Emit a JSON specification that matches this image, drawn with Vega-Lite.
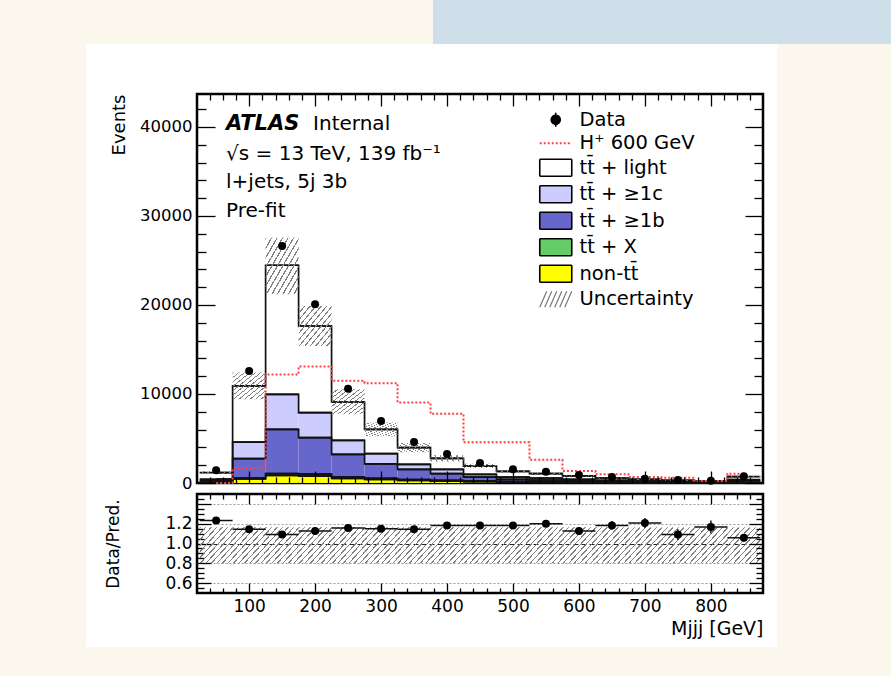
{
  "$schema": "https://vega.github.io/schema/vega-lite/v6.json",
  "background": "#ffffff",
  "padding": 0,
  "spacing": 0,
  "config": {
    "font": "DejaVu Sans",
    "view": {"stroke": null},
    "axis": {"labelFont": "DejaVu Sans", "titleFont": "DejaVu Sans", "labelColor": "#000", "titleColor": "#000", "titleFontWeight": "normal", "tickColor": "#000", "domain": false, "labelOverlap": false, "labelFlush": false},
    "legend": {"labelFont": "DejaVu Sans"}
  },
  "datasets": {
    "stack": [
      {"lo":25,"hi":75,"mid":50,"p":"non-tt\u0304","ev":60},{"lo":25,"hi":75,"mid":50,"p":"tt\u0304 + X","ev":20},{"lo":25,"hi":75,"mid":50,"p":"tt\u0304 + \u22651b","ev":150},{"lo":25,"hi":75,"mid":50,"p":"tt\u0304 + \u22651c","ev":200},{"lo":25,"hi":75,"mid":50,"p":"tt\u0304 + light","ev":730},
      {"lo":75,"hi":125,"mid":100,"p":"non-tt\u0304","ev":450},{"lo":75,"hi":125,"mid":100,"p":"tt\u0304 + X","ev":100},{"lo":75,"hi":125,"mid":100,"p":"tt\u0304 + \u22651b","ev":2180},{"lo":75,"hi":125,"mid":100,"p":"tt\u0304 + \u22651c","ev":1870},{"lo":75,"hi":125,"mid":100,"p":"tt\u0304 + light","ev":6300},
      {"lo":125,"hi":175,"mid":150,"p":"non-tt\u0304","ev":850},{"lo":125,"hi":175,"mid":150,"p":"tt\u0304 + X","ev":200},{"lo":125,"hi":175,"mid":150,"p":"tt\u0304 + \u22651b","ev":4980},{"lo":125,"hi":175,"mid":150,"p":"tt\u0304 + \u22651c","ev":3930},{"lo":125,"hi":175,"mid":150,"p":"tt\u0304 + light","ev":14500},
      {"lo":175,"hi":225,"mid":200,"p":"non-tt\u0304","ev":780},{"lo":175,"hi":225,"mid":200,"p":"tt\u0304 + X","ev":220},{"lo":175,"hi":225,"mid":200,"p":"tt\u0304 + \u22651b","ev":4090},{"lo":175,"hi":225,"mid":200,"p":"tt\u0304 + \u22651c","ev":2810},{"lo":175,"hi":225,"mid":200,"p":"tt\u0304 + light","ev":9740},
      {"lo":225,"hi":275,"mid":250,"p":"non-tt\u0304","ev":520},{"lo":225,"hi":275,"mid":250,"p":"tt\u0304 + X","ev":150},{"lo":225,"hi":275,"mid":250,"p":"tt\u0304 + \u22651b","ev":2550},{"lo":225,"hi":275,"mid":250,"p":"tt\u0304 + \u22651c","ev":1570},{"lo":225,"hi":275,"mid":250,"p":"tt\u0304 + light","ev":4310},
      {"lo":275,"hi":325,"mid":300,"p":"non-tt\u0304","ev":400},{"lo":275,"hi":325,"mid":300,"p":"tt\u0304 + X","ev":120},{"lo":275,"hi":325,"mid":300,"p":"tt\u0304 + \u22651b","ev":1630},{"lo":275,"hi":325,"mid":300,"p":"tt\u0304 + \u22651c","ev":1150},{"lo":275,"hi":325,"mid":300,"p":"tt\u0304 + light","ev":2730},
      {"lo":325,"hi":375,"mid":350,"p":"non-tt\u0304","ev":300},{"lo":325,"hi":375,"mid":350,"p":"tt\u0304 + X","ev":90},{"lo":325,"hi":375,"mid":350,"p":"tt\u0304 + \u22651b","ev":1150},{"lo":325,"hi":375,"mid":350,"p":"tt\u0304 + \u22651c","ev":560},{"lo":325,"hi":375,"mid":350,"p":"tt\u0304 + light","ev":1870},
      {"lo":375,"hi":425,"mid":400,"p":"non-tt\u0304","ev":220},{"lo":375,"hi":425,"mid":400,"p":"tt\u0304 + X","ev":70},{"lo":375,"hi":425,"mid":400,"p":"tt\u0304 + \u22651b","ev":760},{"lo":375,"hi":425,"mid":400,"p":"tt\u0304 + \u22651c","ev":490},{"lo":375,"hi":425,"mid":400,"p":"tt\u0304 + light","ev":1230},
      {"lo":425,"hi":475,"mid":450,"p":"non-tt\u0304","ev":160},{"lo":425,"hi":475,"mid":450,"p":"tt\u0304 + X","ev":50},{"lo":425,"hi":475,"mid":450,"p":"tt\u0304 + \u22651b","ev":460},{"lo":425,"hi":475,"mid":450,"p":"tt\u0304 + \u22651c","ev":310},{"lo":425,"hi":475,"mid":450,"p":"tt\u0304 + light","ev":920},
      {"lo":475,"hi":525,"mid":500,"p":"non-tt\u0304","ev":110},{"lo":475,"hi":525,"mid":500,"p":"tt\u0304 + X","ev":35},{"lo":475,"hi":525,"mid":500,"p":"tt\u0304 + \u22651b","ev":265},{"lo":475,"hi":525,"mid":500,"p":"tt\u0304 + \u22651c","ev":260},{"lo":475,"hi":525,"mid":500,"p":"tt\u0304 + light","ev":630},
      {"lo":525,"hi":575,"mid":550,"p":"non-tt\u0304","ev":80},{"lo":525,"hi":575,"mid":550,"p":"tt\u0304 + X","ev":25},{"lo":525,"hi":575,"mid":550,"p":"tt\u0304 + \u22651b","ev":225},{"lo":525,"hi":575,"mid":550,"p":"tt\u0304 + \u22651c","ev":230},{"lo":525,"hi":575,"mid":550,"p":"tt\u0304 + light","ev":490},
      {"lo":575,"hi":625,"mid":600,"p":"non-tt\u0304","ev":60},{"lo":575,"hi":625,"mid":600,"p":"tt\u0304 + X","ev":20},{"lo":575,"hi":625,"mid":600,"p":"tt\u0304 + \u22651b","ev":170},{"lo":575,"hi":625,"mid":600,"p":"tt\u0304 + \u22651c","ev":170},{"lo":575,"hi":625,"mid":600,"p":"tt\u0304 + light","ev":370},
      {"lo":625,"hi":675,"mid":650,"p":"non-tt\u0304","ev":45},{"lo":625,"hi":675,"mid":650,"p":"tt\u0304 + X","ev":15},{"lo":625,"hi":675,"mid":650,"p":"tt\u0304 + \u22651b","ev":120},{"lo":625,"hi":675,"mid":650,"p":"tt\u0304 + \u22651c","ev":120},{"lo":625,"hi":675,"mid":650,"p":"tt\u0304 + light","ev":260},
      {"lo":675,"hi":725,"mid":700,"p":"non-tt\u0304","ev":35},{"lo":675,"hi":725,"mid":700,"p":"tt\u0304 + X","ev":10},{"lo":675,"hi":725,"mid":700,"p":"tt\u0304 + \u22651b","ev":85},{"lo":675,"hi":725,"mid":700,"p":"tt\u0304 + \u22651c","ev":85},{"lo":675,"hi":725,"mid":700,"p":"tt\u0304 + light","ev":185},
      {"lo":725,"hi":775,"mid":750,"p":"non-tt\u0304","ev":25},{"lo":725,"hi":775,"mid":750,"p":"tt\u0304 + X","ev":8},{"lo":725,"hi":775,"mid":750,"p":"tt\u0304 + \u22651b","ev":62},{"lo":725,"hi":775,"mid":750,"p":"tt\u0304 + \u22651c","ev":65},{"lo":725,"hi":775,"mid":750,"p":"tt\u0304 + light","ev":140},
      {"lo":775,"hi":825,"mid":800,"p":"non-tt\u0304","ev":20},{"lo":775,"hi":825,"mid":800,"p":"tt\u0304 + X","ev":6},{"lo":775,"hi":825,"mid":800,"p":"tt\u0304 + \u22651b","ev":44},{"lo":775,"hi":825,"mid":800,"p":"tt\u0304 + \u22651c","ev":50},{"lo":775,"hi":825,"mid":800,"p":"tt\u0304 + light","ev":100},
      {"lo":825,"hi":875,"mid":850,"p":"non-tt\u0304","ev":50},{"lo":825,"hi":875,"mid":850,"p":"tt\u0304 + X","ev":15},{"lo":825,"hi":875,"mid":850,"p":"tt\u0304 + \u22651b","ev":165},{"lo":825,"hi":875,"mid":850,"p":"tt\u0304 + \u22651c","ev":150},{"lo":825,"hi":875,"mid":850,"p":"tt\u0304 + light","ev":330}
    ],
    "bins": [
      {"lo":25,"hi":75,"mid":50,"data":1430,"ulo":1010,"uhi":1310,"sig":0,"ratio":1.233,"rdn":1.203,"rup":1.263,"blo":0.8,"bhi":1.165},
      {"lo":75,"hi":125,"mid":100,"data":12580,"ulo":9400,"uhi":12400,"sig":1620,"ratio":1.143,"rdn":1.133,"rup":1.153,"blo":0.8,"bhi":1.165},
      {"lo":125,"hi":175,"mid":150,"data":26630,"ulo":21200,"uhi":27560,"sig":12200,"ratio":1.09,"rdn":1.083,"rup":1.097,"blo":0.8,"bhi":1.165},
      {"lo":175,"hi":225,"mid":200,"data":20080,"ulo":15390,"uhi":19890,"sig":13100,"ratio":1.127,"rdn":1.119,"rup":1.135,"blo":0.8,"bhi":1.165},
      {"lo":225,"hi":275,"mid":250,"data":10600,"ulo":7720,"uhi":10530,"sig":11500,"ratio":1.157,"rdn":1.146,"rup":1.168,"blo":0.8,"bhi":1.165},
      {"lo":275,"hi":325,"mid":300,"data":6970,"ulo":5250,"uhi":6810,"sig":11200,"ratio":1.15,"rdn":1.136,"rup":1.164,"blo":0.8,"bhi":1.165},
      {"lo":325,"hi":375,"mid":350,"data":4600,"ulo":3450,"uhi":4490,"sig":9030,"ratio":1.143,"rdn":1.126,"rup":1.16,"blo":0.8,"bhi":1.165},
      {"lo":375,"hi":425,"mid":400,"data":3260,"ulo":2410,"uhi":3130,"sig":7780,"ratio":1.183,"rdn":1.163,"rup":1.203,"blo":0.8,"bhi":1.165},
      {"lo":425,"hi":475,"mid":450,"data":2250,"ulo":1650,"uhi":2150,"sig":4570,"ratio":1.183,"rdn":1.159,"rup":1.207,"blo":0.8,"bhi":1.165},
      {"lo":475,"hi":525,"mid":500,"data":1540,"ulo":1130,"uhi":1470,"sig":4570,"ratio":1.183,"rdn":1.154,"rup":1.212,"blo":0.8,"bhi":1.165},
      {"lo":525,"hi":575,"mid":550,"data":1260,"ulo":910,"uhi":1190,"sig":2620,"ratio":1.2,"rdn":1.167,"rup":1.233,"blo":0.8,"bhi":1.165},
      {"lo":575,"hi":625,"mid":600,"data":890,"ulo":690,"uhi":890,"sig":1350,"ratio":1.127,"rdn":1.089,"rup":1.165,"blo":0.8,"bhi":1.165},
      {"lo":625,"hi":675,"mid":650,"data":660,"ulo":490,"uhi":630,"sig":980,"ratio":1.183,"rdn":1.138,"rup":1.228,"blo":0.8,"bhi":1.165},
      {"lo":675,"hi":725,"mid":700,"data":480,"ulo":350,"uhi":450,"sig":670,"ratio":1.207,"rdn":1.157,"rup":1.257,"blo":0.8,"bhi":1.165},
      {"lo":725,"hi":775,"mid":750,"data":330,"ulo":260,"uhi":340,"sig":600,"ratio":1.09,"rdn":1.035,"rup":1.145,"blo":0.8,"bhi":1.165},
      {"lo":775,"hi":825,"mid":800,"data":257,"ulo":190,"uhi":250,"sig":220,"ratio":1.167,"rdn":1.102,"rup":1.232,"blo":0.8,"bhi":1.165},
      {"lo":825,"hi":875,"mid":850,"data":750,"ulo":620,"uhi":800,"sig":1050,"ratio":1.057,"rdn":1.019,"rup":1.095,"blo":0.8,"bhi":1.165}
    ]
  },
  "vconcat": [
    {
      "spacing": 0,
      "bounds": "flush",
      "hconcat": [
        {"width": 433, "height": 44, "data": {"values": [{}]}, "mark": {"type": "point", "opacity": 0}, "view": {"fill": "#fbf7ec", "stroke": null}},
        {"width": 458, "height": 44, "data": {"values": [{}]}, "mark": {"type": "point", "opacity": 0}, "view": {"fill": "#cfdfe9", "stroke": null}}
      ]
    },
    {
      "columns": 5,
      "spacing": 0,
      "bounds": "flush",
      "align": "each",
      "concat": [
        {"width": 86, "height": 50, "data": {"values": [{}]}, "mark": {"type": "point", "opacity": 0}, "view": {"fill": "#fbf7ec", "stroke": null}},
        {"width": 111, "height": 50, "data": {"values": [{}]}, "mark": {"type": "point", "opacity": 0}, "view": {"stroke": null}},
        {"width": 566, "height": 50, "data": {"values": [{}]}, "mark": {"type": "point", "opacity": 0}, "view": {"stroke": null}},
        {"width": 14, "height": 50, "data": {"values": [{}]}, "mark": {"type": "point", "opacity": 0}, "view": {"stroke": null}},
        {"width": 114, "height": 50, "data": {"values": [{}]}, "mark": {"type": "point", "opacity": 0}, "view": {"fill": "#fbf7ec", "stroke": null}},

        {"width": 86, "height": 389, "data": {"values": [{}]}, "mark": {"type": "point", "opacity": 0}, "view": {"fill": "#fbf7ec", "stroke": null}},
        {"width": 111, "height": 389, "data": {"values": [{}]}, "mark": {"type": "point", "opacity": 0}, "view": {"stroke": null}},
        {
          "width": 566,
          "height": 389,
          "view": {"stroke": "#000", "strokeWidth": 2.5},
          "resolve": {"axis": {"x": "independent", "y": "independent"}},
          "layer": [
            {
              "data": {"name": "stack"},
              "transform": [{"stack": "ev", "groupby": ["lo"], "as": ["y0", "y1"]}],
              "mark": {"type": "rect", "strokeWidth": 0},
              "encoding": {
                "x": {"field": "lo", "type": "quantitative", "scale": {"domain": [21, 879], "nice": false, "zero": false},
                  "axis": {"orient": "bottom", "values": [40,60,80,100,120,140,160,180,200,220,240,260,280,300,320,340,360,380,400,420,440,460,480,500,520,540,560,580,600,620,640,660,680,700,720,740,760,780,800,820,840,860], "labels": false, "title": null, "grid": false, "tickWidth": 1.3, "tickSize": {"condition": {"test": "datum.value % 100 === 0", "value": -12}, "value": -6}, "zindex": 1}},
                "x2": {"field": "hi"},
                "y": {"field": "y1", "type": "quantitative", "scale": {"domain": [0, 43700], "nice": false, "zero": false},
                  "axis": {"orient": "left", "values": [0,2000,4000,6000,8000,10000,12000,14000,16000,18000,20000,22000,24000,26000,28000,30000,32000,34000,36000,38000,40000,42000], "labelExpr": "datum.value % 10000 === 0 ? '' + datum.value : ''", "labelFontSize": 16.5, "labelPadding": 23, "tickWidth": 1.3, "tickSize": {"condition": {"test": "datum.value % 10000 === 0", "value": -18}, "value": -9}, "grid": false, "zindex": 1, "title": "Events", "titleFontSize": 18, "titleX": -78, "titleY": 0, "titleAlign": "right", "titleBaseline": "middle", "titleAngle": 270}},
                "y2": {"field": "y0"},
                "color": {"field": "p", "type": "nominal",
                  "scale": {"domain": ["Data", "H\u207a 600 GeV", "tt\u0304 + light", "tt\u0304 + \u22651c", "tt\u0304 + \u22651b", "tt\u0304 + X", "non-tt\u0304", "Uncertainty"], "range": ["#000000", "#ff4040", "#ffffff", "#ccccff", "#6666cc", "#66cc66", "#ffff00", "#888888"]},
                  "legend": {
                    "orient": "none", "legendX": 546, "legendY": 110, "title": null, "padding": 0, "symbolSize": 400, "rowPadding": 2.5, "labelOffset": 14, "labelFontSize": 19.5, "labelColor": "#000", "labelLimit": 400, "symbolType": "square", "direction": "vertical",
                    "encode": {"symbols": {"update": {
                      "shape": {"signal": "datum.value === 'Data' ? 'M0,-0.7V0.7M-0.45,0A0.45,0.45,0,1,1,0.45,0A0.45,0.45,0,1,1,-0.45,0Z' : datum.value === 'H\u207a 600 GeV' ? 'M-1.6,0H1.6' : datum.value === 'Uncertainty' ? 'M-1.6,0.8L-0.9,-0.8M-1.1,0.8L-0.4,-0.8M-0.6,0.8L0.1,-0.8M-0.1,0.8L0.6,-0.8M0.4,0.8L1.1,-0.8M0.9,0.8L1.6,-0.8' : 'M-1.6,-0.85H1.6V0.85H-1.6Z'"},
                      "fill": {"signal": "datum.value === 'Data' ? '#000' : (datum.value === 'H\u207a 600 GeV' || datum.value === 'Uncertainty') ? 'transparent' : datum.value === 'tt\u0304 + light' ? '#ffffff' : datum.value === 'tt\u0304 + \u22651c' ? '#ccccff' : datum.value === 'tt\u0304 + \u22651b' ? '#6666cc' : datum.value === 'tt\u0304 + X' ? '#66cc66' : '#ffff00'"},
                      "stroke": {"signal": "datum.value === 'H\u207a 600 GeV' ? '#ff4040' : datum.value === 'Uncertainty' ? '#777777' : '#000000'"},
                      "strokeWidth": {"signal": "datum.value === 'H\u207a 600 GeV' ? 2 : datum.value === 'Uncertainty' ? 1.2 : 1.6"},
                      "strokeDash": {"signal": "datum.value === 'H\u207a 600 GeV' ? [2, 2] : [1, 0]"},
                      "opacity": {"value": 1},
                      "fillOpacity": {"value": 1}
                    }}}
                  }}
              }
            },
            {
              "data": {"name": "stack"},
              "transform": [{"stack": "ev", "groupby": ["lo"], "as": ["y0", "y1"]}],
              "mark": {"type": "rule", "color": "#111111", "strokeWidth": 1.7},
              "encoding": {
                "x": {"field": "lo", "type": "quantitative", "axis": null},
                "x2": {"field": "hi"},
                "y": {"field": "y1", "type": "quantitative", "axis": null}
              }
            },
            {
              "data": {"name": "stack"},
              "transform": [{"stack": "ev", "groupby": ["lo"], "as": ["y0", "y1"]}],
              "mark": {"type": "line", "interpolate": "step", "color": "#111111", "strokeWidth": 1.7},
              "encoding": {
                "x": {"field": "mid", "type": "quantitative", "axis": null},
                "y": {"field": "y1", "type": "quantitative", "axis": null, "stack": null},
                "detail": {"field": "p", "type": "nominal"}
              }
            },
            {
              "data": {"name": "bins"},
              "mark": {"type": "rect", "strokeWidth": 0, "fill": {"gradient": "linear", "x1": 0, "y1": 0, "x2": 1, "y2": 1, "stops": [
                {"offset":0,"color":"#808080"},{"offset":0.0208,"color":"#808080"},{"offset":0.0208,"color":"rgba(255,255,255,0)"},{"offset":0.0833,"color":"rgba(255,255,255,0)"},
                {"offset":0.0833,"color":"#808080"},{"offset":0.1042,"color":"#808080"},{"offset":0.1042,"color":"rgba(255,255,255,0)"},{"offset":0.1667,"color":"rgba(255,255,255,0)"},
                {"offset":0.1667,"color":"#808080"},{"offset":0.1875,"color":"#808080"},{"offset":0.1875,"color":"rgba(255,255,255,0)"},{"offset":0.25,"color":"rgba(255,255,255,0)"},
                {"offset":0.25,"color":"#808080"},{"offset":0.2708,"color":"#808080"},{"offset":0.2708,"color":"rgba(255,255,255,0)"},{"offset":0.3333,"color":"rgba(255,255,255,0)"},
                {"offset":0.3333,"color":"#808080"},{"offset":0.3542,"color":"#808080"},{"offset":0.3542,"color":"rgba(255,255,255,0)"},{"offset":0.4167,"color":"rgba(255,255,255,0)"},
                {"offset":0.4167,"color":"#808080"},{"offset":0.4375,"color":"#808080"},{"offset":0.4375,"color":"rgba(255,255,255,0)"},{"offset":0.5,"color":"rgba(255,255,255,0)"},
                {"offset":0.5,"color":"#808080"},{"offset":0.5208,"color":"#808080"},{"offset":0.5208,"color":"rgba(255,255,255,0)"},{"offset":0.5833,"color":"rgba(255,255,255,0)"},
                {"offset":0.5833,"color":"#808080"},{"offset":0.6042,"color":"#808080"},{"offset":0.6042,"color":"rgba(255,255,255,0)"},{"offset":0.6667,"color":"rgba(255,255,255,0)"},
                {"offset":0.6667,"color":"#808080"},{"offset":0.6875,"color":"#808080"},{"offset":0.6875,"color":"rgba(255,255,255,0)"},{"offset":0.75,"color":"rgba(255,255,255,0)"},
                {"offset":0.75,"color":"#808080"},{"offset":0.7708,"color":"#808080"},{"offset":0.7708,"color":"rgba(255,255,255,0)"},{"offset":0.8333,"color":"rgba(255,255,255,0)"},
                {"offset":0.8333,"color":"#808080"},{"offset":0.8542,"color":"#808080"},{"offset":0.8542,"color":"rgba(255,255,255,0)"},{"offset":0.9167,"color":"rgba(255,255,255,0)"},
                {"offset":0.9167,"color":"#808080"},{"offset":0.9375,"color":"#808080"},{"offset":0.9375,"color":"rgba(255,255,255,0)"},{"offset":1,"color":"rgba(255,255,255,0)"}
              ]}},
              "encoding": {
                "x": {"field": "lo", "type": "quantitative", "axis": null},
                "x2": {"field": "hi"},
                "y": {"field": "ulo", "type": "quantitative", "axis": null},
                "y2": {"field": "uhi"}
              }
            },
            {
              "data": {"name": "bins"},
              "mark": {"type": "line", "interpolate": "step", "color": "#ff4040", "strokeWidth": 2, "strokeDash": [2, 2]},
              "encoding": {
                "x": {"field": "mid", "type": "quantitative", "axis": null},
                "y": {"field": "sig", "type": "quantitative", "axis": null}
              }
            },
            {
              "data": {"name": "bins"},
              "mark": {"type": "point", "filled": true, "shape": "circle", "color": "#000000", "size": 64, "opacity": 1},
              "encoding": {
                "x": {"field": "mid", "type": "quantitative",
                  "axis": {"orient": "top", "values": [40,60,80,100,120,140,160,180,200,220,240,260,280,300,320,340,360,380,400,420,440,460,480,500,520,540,560,580,600,620,640,660,680,700,720,740,760,780,800,820,840,860], "labels": false, "title": null, "grid": false, "tickWidth": 1.3, "tickSize": {"condition": {"test": "datum.value % 100 === 0", "value": -12}, "value": -6}, "zindex": 1}},
                "y": {"field": "data", "type": "quantitative",
                  "axis": {"orient": "right", "values": [0,2000,4000,6000,8000,10000,12000,14000,16000,18000,20000,22000,24000,26000,28000,30000,32000,34000,36000,38000,40000,42000], "labels": false, "title": null, "grid": false, "tickWidth": 1.3, "tickSize": {"condition": {"test": "datum.value % 10000 === 0", "value": -18}, "value": -9}, "zindex": 1}}
              }
            },
            {
              "data": {"values": [{"t": "ATLAS"}]},
              "mark": {"type": "text", "align": "left", "baseline": "alphabetic", "font": "DejaVu Sans", "fontSize": 21, "fontWeight": "bold", "fontStyle": "italic", "color": "#000000"},
              "encoding": {"x": {"datum": 65, "type": "quantitative", "axis": null}, "y": {"datum": 39656, "type": "quantitative", "axis": null}, "text": {"field": "t"}}
            },
            {
              "data": {"values": [{"t": "Internal"}]},
              "mark": {"type": "text", "align": "left", "baseline": "alphabetic", "font": "DejaVu Sans", "fontSize": 20, "color": "#000000"},
              "encoding": {"x": {"datum": 197, "type": "quantitative", "axis": null}, "y": {"datum": 39656, "type": "quantitative", "axis": null}, "text": {"field": "t"}}
            },
            {
              "data": {"values": [{"t": "\u221as = 13 TeV, 139 fb\u207b\u00b9"}]},
              "mark": {"type": "text", "align": "left", "baseline": "alphabetic", "font": "DejaVu Sans", "fontSize": 20, "color": "#000000"},
              "encoding": {"x": {"datum": 65, "type": "quantitative", "axis": null}, "y": {"datum": 36286, "type": "quantitative", "axis": null}, "text": {"field": "t"}}
            },
            {
              "data": {"values": [{"t": "l+jets, 5j 3b"}]},
              "mark": {"type": "text", "align": "left", "baseline": "alphabetic", "font": "DejaVu Sans", "fontSize": 20, "color": "#000000"},
              "encoding": {"x": {"datum": 65, "type": "quantitative", "axis": null}, "y": {"datum": 33140, "type": "quantitative", "axis": null}, "text": {"field": "t"}}
            },
            {
              "data": {"values": [{"t": "Pre-fit"}]},
              "mark": {"type": "text", "align": "left", "baseline": "alphabetic", "font": "DejaVu Sans", "fontSize": 20, "color": "#000000"},
              "encoding": {"x": {"datum": 65, "type": "quantitative", "axis": null}, "y": {"datum": 29882, "type": "quantitative", "axis": null}, "text": {"field": "t"}}
            }
          ]
        },
        {"width": 14, "height": 389, "data": {"values": [{}]}, "mark": {"type": "point", "opacity": 0}, "view": {"stroke": null}},
        {"width": 114, "height": 389, "data": {"values": [{}]}, "mark": {"type": "point", "opacity": 0}, "view": {"fill": "#fbf7ec", "stroke": null}},

        {"width": 86, "height": 11, "data": {"values": [{}]}, "mark": {"type": "point", "opacity": 0}, "view": {"fill": "#fbf7ec", "stroke": null}},
        {"width": 111, "height": 11, "data": {"values": [{}]}, "mark": {"type": "point", "opacity": 0}, "view": {"stroke": null}},
        {"width": 566, "height": 11, "data": {"values": [{}]}, "mark": {"type": "point", "opacity": 0}, "view": {"stroke": null}},
        {"width": 14, "height": 11, "data": {"values": [{}]}, "mark": {"type": "point", "opacity": 0}, "view": {"stroke": null}},
        {"width": 114, "height": 11, "data": {"values": [{}]}, "mark": {"type": "point", "opacity": 0}, "view": {"fill": "#fbf7ec", "stroke": null}},

        {"width": 86, "height": 99, "data": {"values": [{}]}, "mark": {"type": "point", "opacity": 0}, "view": {"fill": "#fbf7ec", "stroke": null}},
        {"width": 111, "height": 99, "data": {"values": [{}]}, "mark": {"type": "point", "opacity": 0}, "view": {"stroke": null}},
        {
          "width": 566,
          "height": 99,
          "view": {"stroke": "#000", "strokeWidth": 2.5},
          "resolve": {"axis": {"x": "independent", "y": "independent"}},
          "data": {"name": "bins"},
          "layer": [
            {
              "mark": {"type": "rect", "strokeWidth": 0, "fill": {"gradient": "linear", "x1": 0, "y1": 0, "x2": 1, "y2": 1, "stops": [
                {"offset":0,"color":"#808080"},{"offset":0.0208,"color":"#808080"},{"offset":0.0208,"color":"rgba(255,255,255,0)"},{"offset":0.0833,"color":"rgba(255,255,255,0)"},
                {"offset":0.0833,"color":"#808080"},{"offset":0.1042,"color":"#808080"},{"offset":0.1042,"color":"rgba(255,255,255,0)"},{"offset":0.1667,"color":"rgba(255,255,255,0)"},
                {"offset":0.1667,"color":"#808080"},{"offset":0.1875,"color":"#808080"},{"offset":0.1875,"color":"rgba(255,255,255,0)"},{"offset":0.25,"color":"rgba(255,255,255,0)"},
                {"offset":0.25,"color":"#808080"},{"offset":0.2708,"color":"#808080"},{"offset":0.2708,"color":"rgba(255,255,255,0)"},{"offset":0.3333,"color":"rgba(255,255,255,0)"},
                {"offset":0.3333,"color":"#808080"},{"offset":0.3542,"color":"#808080"},{"offset":0.3542,"color":"rgba(255,255,255,0)"},{"offset":0.4167,"color":"rgba(255,255,255,0)"},
                {"offset":0.4167,"color":"#808080"},{"offset":0.4375,"color":"#808080"},{"offset":0.4375,"color":"rgba(255,255,255,0)"},{"offset":0.5,"color":"rgba(255,255,255,0)"},
                {"offset":0.5,"color":"#808080"},{"offset":0.5208,"color":"#808080"},{"offset":0.5208,"color":"rgba(255,255,255,0)"},{"offset":0.5833,"color":"rgba(255,255,255,0)"},
                {"offset":0.5833,"color":"#808080"},{"offset":0.6042,"color":"#808080"},{"offset":0.6042,"color":"rgba(255,255,255,0)"},{"offset":0.6667,"color":"rgba(255,255,255,0)"},
                {"offset":0.6667,"color":"#808080"},{"offset":0.6875,"color":"#808080"},{"offset":0.6875,"color":"rgba(255,255,255,0)"},{"offset":0.75,"color":"rgba(255,255,255,0)"},
                {"offset":0.75,"color":"#808080"},{"offset":0.7708,"color":"#808080"},{"offset":0.7708,"color":"rgba(255,255,255,0)"},{"offset":0.8333,"color":"rgba(255,255,255,0)"},
                {"offset":0.8333,"color":"#808080"},{"offset":0.8542,"color":"#808080"},{"offset":0.8542,"color":"rgba(255,255,255,0)"},{"offset":0.9167,"color":"rgba(255,255,255,0)"},
                {"offset":0.9167,"color":"#808080"},{"offset":0.9375,"color":"#808080"},{"offset":0.9375,"color":"rgba(255,255,255,0)"},{"offset":1,"color":"rgba(255,255,255,0)"}
              ]}},
              "encoding": {
                "x": {"field": "lo", "type": "quantitative", "scale": {"domain": [21, 879], "nice": false, "zero": false},
                  "axis": {"orient": "bottom", "values": [40,60,80,100,120,140,160,180,200,220,240,260,280,300,320,340,360,380,400,420,440,460,480,500,520,540,560,580,600,620,640,660,680,700,720,740,760,780,800,820,840,860], "labelExpr": "datum.value % 100 === 0 ? '' + datum.value : ''", "labelFontSize": 17, "labelPadding": 15, "tickWidth": 1.3, "tickSize": {"condition": {"test": "datum.value % 100 === 0", "value": -10}, "value": -5}, "grid": false, "zindex": 1, "title": "Mjjj [GeV]", "titleFontSize": 19, "titleX": 566, "titleY": 41, "titleAlign": "right", "titleBaseline": "alphabetic"}},
                "x2": {"field": "hi"},
                "y": {"field": "blo", "type": "quantitative", "scale": {"domain": [0.5, 1.5], "nice": false, "zero": false},
                  "axis": {"orient": "left", "values": [0.55,0.6,0.65,0.7,0.75,0.8,0.85,0.9,0.95,1,1.05,1.1,1.15,1.2,1.25,1.3,1.35,1.4,1.45], "labelExpr": "(round(datum.value * 20) % 4 === 0 && datum.value < 1.3) ? format(datum.value, '.1f') : ''", "labelFontSize": 17, "labelPadding": 19, "tickWidth": 1.3, "tickSize": {"condition": {"test": "round(datum.value * 20) % 4 === 0", "value": -14}, "value": -7},
                    "grid": true, "gridWidth": 1,
                    "gridColor": {"condition": {"test": "abs(datum.value - 1) < 0.01", "value": "#222222"}, "value": "#999999"},
                    "gridDash": {"condition": {"test": "abs(datum.value - 1) < 0.01", "value": [5, 3]}, "value": [2, 2]},
                    "gridOpacity": {"condition": {"test": "round(datum.value * 20) % 4 === 0", "value": 1}, "value": 0},
                    "zindex": 0, "title": "Data/Pred.", "titleFontSize": 17, "titleX": -84, "titleY": 49.5, "titleAlign": "center", "titleBaseline": "middle", "titleAngle": 270}},
                "y2": {"field": "bhi"}
              }
            },
            {
              "mark": {"type": "rule", "color": "#111111", "strokeWidth": 1.5},
              "encoding": {
                "x": {"field": "lo", "type": "quantitative", "axis": null},
                "x2": {"field": "hi"},
                "y": {"field": "ratio", "type": "quantitative", "axis": null}
              }
            },
            {
              "mark": {"type": "rule", "color": "#111111", "strokeWidth": 1.5},
              "encoding": {
                "x": {"field": "mid", "type": "quantitative", "axis": null},
                "y": {"field": "rdn", "type": "quantitative", "axis": null},
                "y2": {"field": "rup"}
              }
            },
            {
              "mark": {"type": "point", "filled": true, "shape": "circle", "color": "#000000", "size": 64, "opacity": 1},
              "encoding": {
                "x": {"field": "mid", "type": "quantitative",
                  "axis": {"orient": "top", "values": [40,60,80,100,120,140,160,180,200,220,240,260,280,300,320,340,360,380,400,420,440,460,480,500,520,540,560,580,600,620,640,660,680,700,720,740,760,780,800,820,840,860], "labels": false, "title": null, "grid": false, "tickWidth": 1.3, "tickSize": {"condition": {"test": "datum.value % 100 === 0", "value": -10}, "value": -5}, "zindex": 1}},
                "y": {"field": "ratio", "type": "quantitative",
                  "axis": {"orient": "right", "values": [0.55,0.6,0.65,0.7,0.75,0.8,0.85,0.9,0.95,1,1.05,1.1,1.15,1.2,1.25,1.3,1.35,1.4,1.45], "labels": false, "title": null, "grid": false, "tickWidth": 1.3, "tickSize": {"condition": {"test": "round(datum.value * 20) % 4 === 0", "value": -14}, "value": -7}, "zindex": 1}}
              }
            }
          ]
        },
        {"width": 14, "height": 99, "data": {"values": [{}]}, "mark": {"type": "point", "opacity": 0}, "view": {"stroke": null}},
        {"width": 114, "height": 99, "data": {"values": [{}]}, "mark": {"type": "point", "opacity": 0}, "view": {"fill": "#fbf7ec", "stroke": null}},

        {"width": 86, "height": 54, "data": {"values": [{}]}, "mark": {"type": "point", "opacity": 0}, "view": {"fill": "#fbf7ec", "stroke": null}},
        {"width": 111, "height": 54, "data": {"values": [{}]}, "mark": {"type": "point", "opacity": 0}, "view": {"stroke": null}},
        {"width": 566, "height": 54, "data": {"values": [{}]}, "mark": {"type": "point", "opacity": 0}, "view": {"stroke": null}},
        {"width": 14, "height": 54, "data": {"values": [{}]}, "mark": {"type": "point", "opacity": 0}, "view": {"stroke": null}},
        {"width": 114, "height": 54, "data": {"values": [{}]}, "mark": {"type": "point", "opacity": 0}, "view": {"fill": "#fbf7ec", "stroke": null}},

        {"width": 86, "height": 29, "data": {"values": [{}]}, "mark": {"type": "point", "opacity": 0}, "view": {"fill": "#fbf7ec", "stroke": null}},
        {"width": 111, "height": 29, "data": {"values": [{}]}, "mark": {"type": "point", "opacity": 0}, "view": {"fill": "#fbf7ec", "stroke": null}},
        {"width": 566, "height": 29, "data": {"values": [{}]}, "mark": {"type": "point", "opacity": 0}, "view": {"fill": "#fbf7ec", "stroke": null}},
        {"width": 14, "height": 29, "data": {"values": [{}]}, "mark": {"type": "point", "opacity": 0}, "view": {"fill": "#fbf7ec", "stroke": null}},
        {"width": 114, "height": 29, "data": {"values": [{}]}, "mark": {"type": "point", "opacity": 0}, "view": {"fill": "#fbf7ec", "stroke": null}}
      ]
    }
  ]
}
